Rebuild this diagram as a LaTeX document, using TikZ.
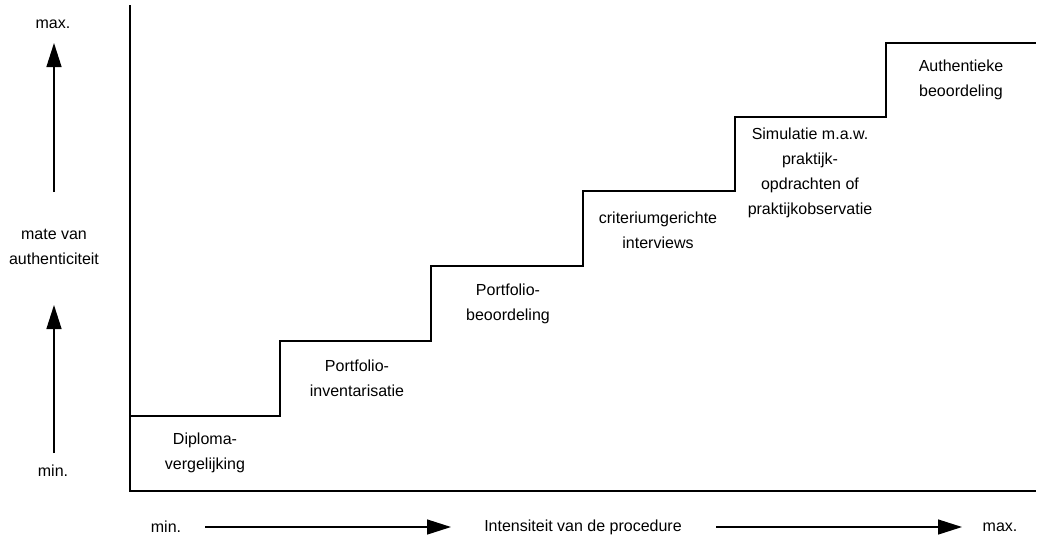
\documentclass[tikz,border=0pt]{standalone}
\usepackage{fontspec}
\setmainfont{Liberation Sans}
\usetikzlibrary{arrows.meta}
\begin{document}
\begin{tikzpicture}[x=1pt,y=-1pt,
  lbl/.style={align=center,inner sep=0pt,font=\fontsize{16}{25}\selectfont},
  axis/.style={line width=2.4pt},
  stair/.style={line width=2pt},
  dirarrow/.style={line width=1.4pt,-{Triangle[length=24pt,width=15pt]}}]
  \useasboundingbox (0,0) rectangle (1038,539);

  % axes
  \coordinate (top) at (130,5);
  \coordinate (origin) at (130,491);
  \coordinate (right) at (1036,491);
  \draw[axis] (top) -- (origin) -- (right);

  % staircase
  \draw[stair] (130,416) -- (280,416) -- (280,341) -- (431,341) -- (431,266)
    -- (583,266) -- (583,191) -- (735,191) -- (735,117) -- (886,117)
    -- (886,43) -- (1036,43);

  % step labels
  \node[lbl] (s1) at (205,453) {Diploma-\\vergelijking};
  \node[lbl] (s2) at (357,378) {Portfolio-\\inventarisatie};
  \node[lbl] (s3) at (508,304) {Portfolio-\\beoordeling};
  \node[lbl] (s4) at (658,230) {criteriumgerichte\\interviews};
  \node[lbl] (s5) at (810,173) {Simulatie m.a.w.\\praktijk-\\opdrachten of\\praktijkobservatie};
  \node[lbl] (s6) at (961,80) {Authentieke\\beoordeling};

  % vertical direction indicator
  \node[lbl] (vmax) at (53,24) {max.};
  \node[lbl] (vlab) at (54,247) {mate van\\authenticiteit};
  \node[lbl] (vmin) at (53,471) {min.};
  \coordinate (va1) at (54,192);
  \coordinate (vt1) at (54,43);
  \coordinate (va2) at (54,453);
  \coordinate (vt2) at (54,305);
  \draw[dirarrow] (va1) -- (vt1);
  \draw[dirarrow] (va2) -- (vt2);

  % horizontal direction indicator
  \node[lbl] (hmin) at (166,527) {min.};
  \node[lbl] (hlab) at (583,527) {Intensiteit van de procedure};
  \node[lbl] (hmax) at (1000,527) {max.};
  \coordinate (ha1) at (205,527);
  \coordinate (ht1) at (451,527);
  \coordinate (ha2) at (716,527);
  \coordinate (ht2) at (962,527);
  \draw[dirarrow] (ha1) -- (ht1);
  \draw[dirarrow] (ha2) -- (ht2);
\end{tikzpicture}
\end{document}
